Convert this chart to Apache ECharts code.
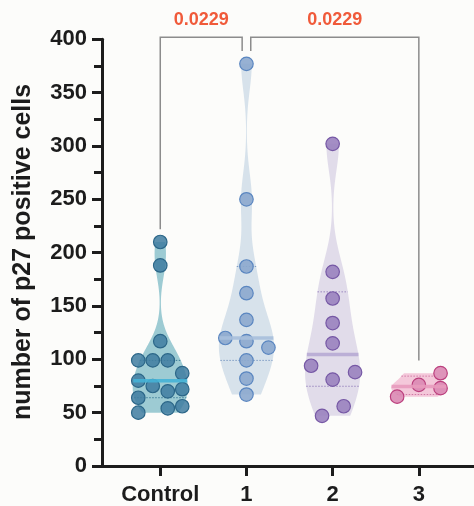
<!DOCTYPE html>
<html><head><meta charset="utf-8">
<script src="https://cdn.jsdelivr.net/npm/echarts@6/dist/echarts.min.js"></script>
<style>html,body{margin:0;padding:0;background:#fcfcfa}#c{width:474px;height:506px}</style>
</head><body><div id="c"></div>
<script>
// ---------------- data ----------------
const categories = ['Control', '1', '2', '3'];
const controlValues = [210, 188, 117, 99, 99, 99, 87, 80, 75, 70, 72, 64, 50, 54, 56];
const controlJitter = [0, 0, 0, -0.255, -0.087, 0.087, 0.255, -0.255, -0.087, 0.087, 0.255, -0.255, -0.255, 0.087, 0.255];
const group1Values = [377, 250, 187, 162, 137, 120, 117, 111, 99, 82, 67];
const group1Jitter = [0, 0, 0, 0, 0, -0.245, 0, 0.255, 0, 0, 0];
const group2Values = [302, 182, 157, 134, 115, 94, 81, 88, 56, 47];
const group2Jitter = [0, 0, 0, 0, 0, -0.25, 0, 0.26, 0.128, -0.123];
const group3Values = [65, 76, 87, 73];
const group3Jitter = [-0.252, 0, 0.252, 0.252];
const yTicks = [0, 50, 100, 150, 200, 250, 300, 350, 400];
const yTitle = 'number of p27 positive cells';
const comparisonFrom = [0, 1];
const comparisonTo = [1, 3];
const comparisonP = ['0.0229', '0.0229'];

// ---------------- styles ----------------
const styles = [
  {violin: '#9dcbd3', point: 'rgba(64,125,160,0.85)', border: '#2b6688', median: '#45b2d6', quart: '#3d7d98'},
  {violin: '#d7e2eb', point: 'rgba(140,168,206,0.9)', border: '#5a86c0', median: '#a7bfdb', quart: '#7f9cc4'},
  {violin: '#e1dcea', point: 'rgba(154,130,191,0.9)', border: '#7658a5', median: '#b7aad4', quart: '#9b88c0'},
  {violin: '#f4c8da', point: 'rgba(218,136,178,0.9)', border: '#bb3f7d', median: '#e89abd', quart: '#d07aa5'}
];
const violinBandwidth = [16, 25, 25, 6.2];
const MAX_HALF = 0.32; // violin half-width in category units

// ---------------- stats ----------------
function quantile(sorted, p) {
  const n = sorted.length, pos = (n + 1) * p;
  if (pos <= 1) return sorted[0];
  if (pos >= n) return sorted[n - 1];
  const lo = Math.floor(pos), f = pos - lo;
  return sorted[lo - 1] + f * (sorted[lo] - sorted[lo - 1]);
}
function buildGroup(values, jitter, i) {
  const s = values.slice().sort((a, b) => a - b);
  const n = s.length;
  const q1 = quantile(s, 0.25), q3 = quantile(s, 0.75), med = quantile(s, 0.5);
  const h = violinBandwidth[i];
  const dens = y => s.reduce((a, v) => a + Math.exp(-0.5 * ((y - v) / h) ** 2), 0);
  const lo = s[0], hi = s[n - 1], N = 200;
  const prof = [];
  let dmax = 0;
  for (let k = 0; k <= N; k++) {
    const y = lo + (hi - lo) * k / N;
    const d = dens(y);
    dmax = Math.max(dmax, d);
    prof.push([y, d]);
  }
  prof.forEach(p => p[1] = MAX_HALF * p[1] / dmax);
  const widthAt = y => MAX_HALF * dens(y) / dmax;
  return {x: i, values, jitter, q1, q3, med, prof, widthAt, max: hi};
}
const groups = [
  buildGroup(controlValues, controlJitter, 0),
  buildGroup(group1Values, group1Jitter, 1),
  buildGroup(group2Values, group2Jitter, 2),
  buildGroup(group3Values, group3Jitter, 3)
];

// ---------------- render helpers ----------------
function violinItem(params, api) {
  const g = groups[params.dataIndex], st = styles[params.dataIndex];
  const pts = [];
  g.prof.forEach(p => pts.push(api.coord([g.x + p[1], p[0]])));
  for (let k = g.prof.length - 1; k >= 0; k--) pts.push(api.coord([g.x - g.prof[k][1], g.prof[k][0]]));
  const children = [{type: 'polygon', shape: {points: pts}, style: {fill: st.violin}}];
  [g.q1, g.q3].forEach(q => {
    const w = g.widthAt(q);
    const a = api.coord([g.x - w, q]), b = api.coord([g.x + w, q]);
    children.push({type: 'line', shape: {x1: a[0], y1: a[1], x2: b[0], y2: b[1]},
      style: {stroke: st.quart, lineWidth: 1, lineDash: [1.5, 1.5]}});
  });
  return {type: 'group', children};
}
function medianItem(params, api) {
  const g = groups[params.dataIndex], st = styles[params.dataIndex];
  const w = g.widthAt(g.med);
  const a = api.coord([g.x - w, g.med]), b = api.coord([g.x + w, g.med]);
  return {type: 'line', shape: {x1: a[0], y1: a[1], x2: b[0], y2: b[1]},
    style: {stroke: st.median, lineWidth: 3.5, opacity: 0.9}};
}
const BRACKET_TOP = 402, GAP = 0.05, DROP = 12;
function bracketItem(params, api) {
  const i = params.dataIndex;
  const f = comparisonFrom[i], t = comparisonTo[i];
  const shared = v => comparisonFrom.concat(comparisonTo).filter(x => x === v).length > 1;
  const xf = f + (shared(f) ? GAP : 0), xt = t - (shared(t) ? GAP : 0);
  const pts = [
    api.coord([xf, groups[f].max + DROP]),
    api.coord([xf, BRACKET_TOP]),
    api.coord([xt, BRACKET_TOP]),
    api.coord([xt, groups[t].max + DROP])
  ];
  const lab = api.coord([(xf + xt) / 2, 418]);
  return {type: 'group', children: [
    {type: 'polyline', shape: {points: pts}, style: {stroke: '#8c8c8c', lineWidth: 1.5, fill: null}},
    {type: 'text', x: lab[0], y: lab[1], style: {text: comparisonP[i], fill: '#f05a3a',
      font: 'bold 18px "Liberation Sans", Arial, sans-serif', align: 'center', verticalAlign: 'middle'}}
  ]};
}

const axisColor = '#1c1c1c';
const series = [
  {type: 'custom', renderItem: violinItem, data: groups.map((g, i) => [i, g.med]), z: 1, clip: false, silent: true},
  ...groups.map((g, i) => ({
    type: 'scatter', z: 2, symbolSize: 13.5,
    data: g.values.map((v, k) => [g.x + g.jitter[k], v]),
    itemStyle: {color: styles[i].point, borderColor: styles[i].border, borderWidth: 1.2, opacity: 1}
  })),
  {type: 'custom', renderItem: medianItem, data: groups.map((g, i) => [i, g.med]), z: 3, clip: false, silent: true},
  {type: 'custom', renderItem: bracketItem, data: comparisonFrom.map((f, i) => [f, 400]), z: 4, clip: false, silent: true}
];

const chart = echarts.init(document.getElementById('c'), null, {renderer: 'canvas'});
chart.setOption({
  backgroundColor: '#fcfcfa',
  animation: false,
  grid: {left: 102, right: 0, top: 39.3, bottom: 38.7, containLabel: false},
  xAxis: {
    type: 'value', min: -0.676, max: 3.64,
    splitLine: {show: false},
    axisLine: {show: true, onZero: false, lineStyle: {color: axisColor, width: 3}},
    axisTick: {show: true, customValues: [0, 1, 2, 3], length: 10, lineStyle: {color: axisColor, width: 3}},
    axisLabel: {customValues: [0, 1, 2, 3], formatter: v => categories[Math.round(v)], margin: 18,
      fontSize: 22, fontWeight: 'bold', color: axisColor, fontFamily: '"Liberation Sans", Arial, sans-serif'}
  },
  yAxis: {
    type: 'value', min: 0, max: 400, interval: 50,
    splitLine: {show: false},
    axisLine: {show: true, onZero: false, lineStyle: {color: axisColor, width: 3}},
    axisTick: {show: true, length: 10, lineStyle: {color: axisColor, width: 3}},
    minorTick: {show: true, splitNumber: 2, length: 8, lineStyle: {color: axisColor, width: 3}},
    axisLabel: {margin: 15, fontSize: 22, fontWeight: 'bold', color: axisColor,
      fontFamily: '"Liberation Sans", Arial, sans-serif',
      formatter: v => yTicks.includes(v) ? String(v) : ''}
  },
  graphic: [{
    type: 'text', x: 23, y: 252, rotation: Math.PI / 2,
    style: {text: yTitle, fill: axisColor, font: 'bold 25px "Liberation Sans", Arial, sans-serif',
      align: 'center', verticalAlign: 'middle'}
  }],
  series
});
</script>
</body></html>
